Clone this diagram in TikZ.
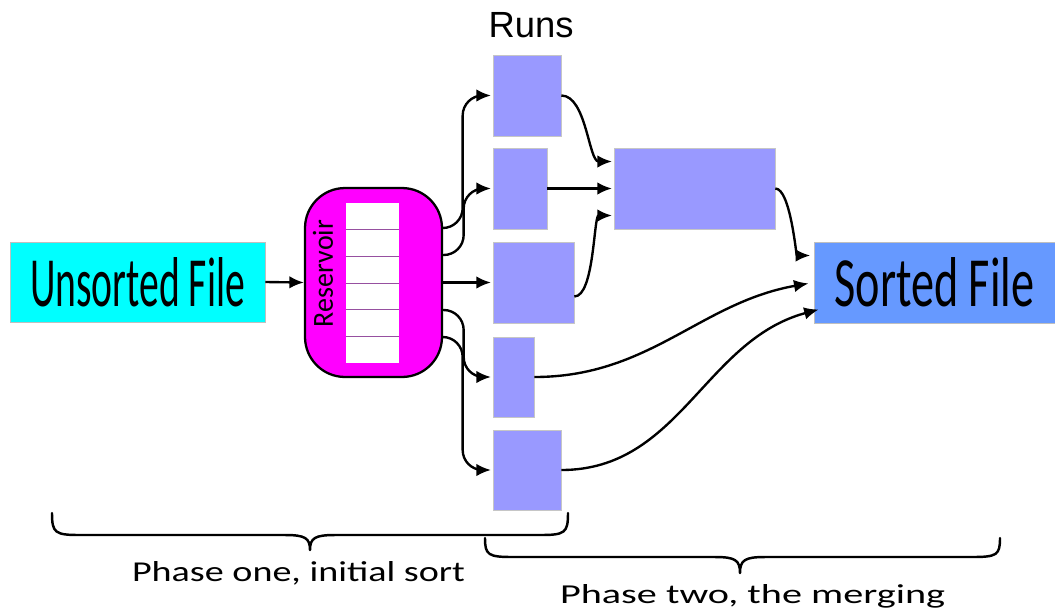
\documentclass[tikz,border=0pt]{standalone}
\usepackage{fontspec}
\setmainfont{Carlito}
\newfontfamily\arialf{Liberation Sans}
\usetikzlibrary{arrows.meta,calc}
\definecolor{runc}{RGB}{153,153,255}
\definecolor{sortc}{RGB}{102,153,255}
\definecolor{cyanc}{RGB}{0,255,255}
\definecolor{magc}{RGB}{255,0,255}
\definecolor{cellc}{RGB}{150,80,160}
\begin{document}
\begin{tikzpicture}[x=0.02cm,y=-0.02cm,
  conn/.style={line width=1.35pt,-{Latex[length=0.29cm,width=0.25cm]}},
  elbow/.style={rounded corners=0.4cm},
  runbox/.style={draw=gray!45,line width=0.4pt,fill=runc,inner sep=0pt,minimum height=1.62cm},
  filebox/.style={draw=gray!50,line width=0.4pt,inner sep=0pt,minimum height=1.6cm},
  bracepath/.style={line width=1.4pt,line cap=round,line join=round},
  cellline/.style={draw=cellc,line width=0.5pt}]
\useasboundingbox (0,0) rectangle (1055,610);

% files
\node[filebox,fill=cyanc,minimum width=5.1cm] (unsorted) at (137.5,282) {\resizebox{4.3cm}{0.98cm}{Unsorted File}};
\node[filebox,fill=sortc,minimum width=4.82cm,minimum height=1.62cm] (sorted) at (934.5,282.5) {\resizebox{4.0cm}{0.98cm}{Sorted File}};

% reservoir
\node[draw=black,line width=1.3pt,fill=magc,rounded corners=0.8cm,minimum width=2.74cm,minimum height=3.78cm] (res) at (373.5,282.5) {};
\node[fill=white,inner sep=0pt,minimum width=1.06cm,minimum height=3.2cm] (col) at (372.5,283) {};
\foreach \k in {1,...,5}
  \draw[cellline] ($(col.north west)!\k/6!(col.south west)$) -- ($(col.north east)!\k/6!(col.south east)$);
\node[rotate=90,inner sep=0pt] (reslabel) at (323,273.5) {\resizebox{2.14cm}{0.4cm}{Reservoir}};

% runs
\node (runs) at (531,25) {\arialf\resizebox{1.7cm}{!}{Runs}};
\node[runbox,minimum width=1.36cm] (r1) at (527,95.5) {};
\node[runbox,minimum width=1.08cm] (r2) at (520,188.5) {};
\node[runbox,minimum width=1.62cm] (r3) at (533.5,282.5) {};
\node[runbox,minimum width=0.82cm,minimum height=1.6cm] (r4) at (513.5,377) {};
\node[runbox,minimum width=1.36cm,minimum height=1.6cm] (r5) at (527,470) {};
\node[runbox,minimum width=3.22cm] (merged) at (694.5,188.5) {};

% connectors
\draw[conn] (unsorted.east) -- (res.west);
\draw[conn,elbow,shorten >=1pt] ([yshift=1.09cm]res.east) -| ([xshift=-0.6cm]r1.west) -- (r1.west);
\draw[conn,elbow,shorten >=1pt] ([yshift=0.55cm]res.east) -| ([xshift=-0.58cm]r2.west) -- (r2.west);
\draw[conn,shorten >=1pt] (res.east) -- (r3.west);
\draw[conn,elbow,shorten >=1pt] ([yshift=-0.55cm]res.east) -| ([xshift=-0.58cm]r4.west) -- (r4.west);
\draw[conn,elbow,shorten >=1pt] ([yshift=-1.09cm]res.east) -| ([xshift=-0.6cm]r5.west) -- (r5.west);

\draw[conn,shorten >=1pt] (r1.east) to[out=0,in=180,out distance=0.5cm,in distance=0.5cm] ([yshift=0.54cm]merged.west);
\draw[conn,shorten >=1pt] (r2.east) -- (merged.west);
\draw[conn,shorten >=1pt] ([yshift=-0.28cm]r3.east) to[out=0,in=180,out distance=0.4cm,in distance=0.4cm] ([yshift=-0.54cm]merged.west);
\draw[conn,shorten >=2pt] (merged.east) to[out=0,in=180,out distance=0.3cm,in distance=0.35cm] ([yshift=0.54cm]sorted.west);
\draw[conn,shorten >=3pt] (r4.east) to[out=0,in=190] (sorted.west);
\draw[conn] (r5.east) to[out=0,in=195] ([xshift=0.1cm,yshift=-0.54cm]sorted.west);

% braces
\draw[bracepath] (52,513) .. controls (52,533) and (55,535) .. (80,535) -- (285,535)
  .. controls (305,535) and (310,538) .. (310,550)
  .. controls (310,538) and (315,535) .. (335,535) -- (540,535)
  .. controls (565,535) and (568,533) .. (568,513);
\draw[bracepath] (485,538) .. controls (485,555) and (488,557) .. (513,557) -- (715,557)
  .. controls (735,557) and (740,560) .. (740,573)
  .. controls (740,560) and (745,557) .. (765,557) -- (972,557)
  .. controls (997,557) and (1000,555) .. (1000,538);

\node[anchor=base,inner sep=0pt] (p1) at (298.5,581) {\resizebox{6.66cm}{0.4cm}{Phase one, initial sort}};
\node[anchor=base,inner sep=0pt] (p2) at (752.5,603) {\resizebox{7.7cm}{0.38cm}{Phase two, the merging}};
\end{tikzpicture}
\end{document}
